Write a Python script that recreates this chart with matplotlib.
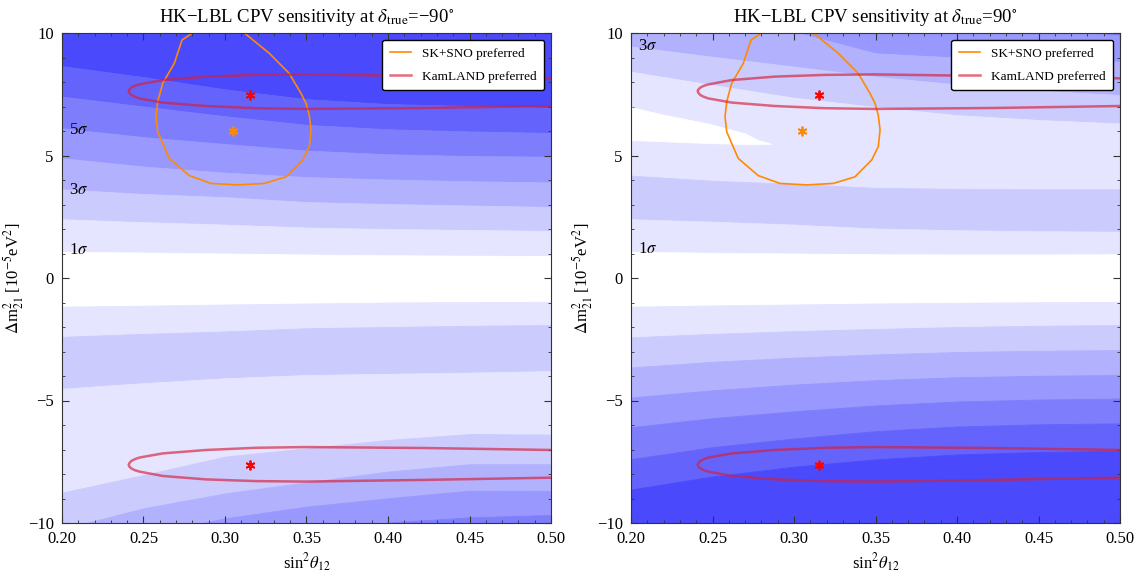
import numpy as np
import matplotlib.pyplot as plt
from matplotlib.ticker import MultipleLocator

plt.rcParams['font.family'] = ['Liberation Serif', 'DejaVu Serif']
plt.rcParams['mathtext.fontset'] = 'stix'

# x nodes (sin^2 theta12) where the contour edges were read
s12 = np.array([0.20, 0.25, 0.30, 0.35, 0.40, 0.45, 0.50])

# delta_true = -90 : contour edges from top to bottom (dm21 in 1e-5 eV^2)
m90_edges = [
    [8.65, 8.20, 7.70, 7.30, 7.10, 7.02, 6.95],
    [7.40, 7.00, 6.60, 6.25, 6.07, 5.98, 5.92],
    [6.11, 5.75, 5.47, 5.20, 5.05, 4.98, 4.95],
    [4.89, 4.55, 4.30, 4.12, 4.02, 3.95, 3.90],
    [3.62, 3.43, 3.30, 3.10, 3.02, 2.96, 2.90],
    [2.40, 2.28, 2.18, 2.06, 2.00, 1.96, 1.92],
    [1.07, 1.04, 1.00, 0.96, 0.93, 0.91, 0.90],
    [-1.17, -1.13, -1.08, -1.04, -1.00, -0.98, -0.97],
    [-2.40, -2.28, -2.18, -2.05, -2.00, -1.95, -1.92],
    [-4.52, -4.29, -4.09, -3.96, -3.91, -3.86, -3.80],
    [-8.76, -8.04, -7.29, -6.95, -6.61, -6.37, -6.39],
    [-10.25, -9.40, -8.79, -8.34, -7.90, -7.60, -7.60],
    [-11.0, -10.5, -9.81, -9.33, -8.99, -8.68, -8.69],
    [-12.0, -11.5, -11.0, -10.4, -9.98, -9.77, -9.67],
]
m90_levels = [7, 6, 5, 4, 3, 2, 1, 0, 1, 2, 1, 2, 3, 4, 5]

# delta_true = +90
p90_edges = [
    [11.0, 11.0, 11.0, 10.6, 10.3, 10.1, 9.90],
    [10.6, 10.3, 10.05, 9.17, 9.00, 8.90, 8.83],
    [9.45, 9.03, 8.63, 8.22, 7.90, 7.65, 7.47],
    [8.42, 7.88, 7.36, 6.98, 6.65, 6.45, 6.31],
    [4.18, 3.97, 3.84, 3.68, 3.64, 3.62, 3.62],
    [2.40, 2.30, 2.18, 2.02, 1.95, 1.91, 1.89],
    [1.07, 1.03, 1.00, 0.97, 0.96, 0.96, 0.97],
    [-1.17, -1.12, -1.08, -1.04, -1.01, -0.99, -0.97],
    [-2.42, -2.28, -2.17, -2.08, -2.00, -1.95, -1.92],
    [-3.65, -3.42, -3.25, -3.12, -3.02, -2.97, -2.94],
    [-4.88, -4.58, -4.35, -4.17, -4.05, -3.99, -3.96],
    [-6.09, -5.72, -5.44, -5.20, -5.04, -4.96, -4.92],
    [-7.39, -6.90, -6.55, -6.25, -6.06, -5.97, -5.93],
    [-8.63, -8.10, -7.70, -7.40, -7.20, -7.10, -7.05],
]
p90_levels = [5, 4, 3, 2, 1, 2, 1, 0, 1, 2, 3, 4, 5, 6, 7]

# white pocket in the +90 panel
notch_x = [0.200, 0.221, 0.247, 0.270, 0.278, 0.286]
notch_lo = [5.63, 5.58, 5.51, 5.47, 5.47, 5.48]
notch_hi = [6.97, 6.65, 6.31, 5.90, 5.63, 5.48]

# SK+SNO preferred region (leaves the frame at the top)
sk_x = [0.2800, 0.2736, 0.2689, 0.2618, 0.2587, 0.2577, 0.2587, 0.2658, 0.2781,
        0.2914, 0.3078, 0.3241, 0.3374, 0.3477, 0.3517, 0.3528, 0.3517, 0.3497,
        0.3466, 0.3394, 0.3272, 0.3119]
sk_y = [10.0, 9.71, 8.76, 7.95, 7.20, 6.58, 5.97, 4.88, 4.18,
        3.86, 3.80, 3.86, 4.13, 4.82, 5.36, 6.04, 6.65, 7.13,
        7.54, 8.35, 9.17, 10.0]

# KamLAND preferred region (upper copy, lower one is mirrored)
kam_x = [0.52, 0.50, 0.4233, 0.3497, 0.319, 0.2883, 0.2618, 0.2474, 0.2445,
         0.2425, 0.2413, 0.2409, 0.2413, 0.2425, 0.2445, 0.2474, 0.2618,
         0.2883, 0.319, 0.3497, 0.4233, 0.50, 0.52]
kam_y = [8.13, 8.15, 8.24, 8.31, 8.29, 8.22, 8.08, 7.90, 7.84,
         7.77, 7.69, 7.63, 7.56, 7.47, 7.40, 7.33, 7.16,
         7.02, 6.93, 6.90, 6.94, 7.02, 7.04]

sk_best = (0.305, 6.02)
kam_best = [(0.3155, 7.46), (0.3155, -7.63)]

sigma_m90 = [('5$\\sigma$', 6.04), ('3$\\sigma$', 3.60), ('1$\\sigma$', 1.14)]
sigma_p90 = [('3$\\sigma$', 9.45), ('1$\\sigma$', 1.20)]


def shade(k):
    f = k / 7.0
    return (1 - 0.71 * f, 1 - 0.71 * f, 1 - 0.01 * f)


def panel(ax, edges, levels, title, labels):
    top = np.full(len(s12), 12.0)
    bot = np.full(len(s12), -12.0)
    bounds = [top] + [np.array(e) for e in edges] + [bot]
    for i, lev in enumerate(levels):
        ax.fill_between(s12, bounds[i + 1], bounds[i], color=shade(lev), lw=0.6, zorder=1)

    ax.plot(sk_x, sk_y, color='#ff8a00', lw=1.2, zorder=3, label='SK+SNO preferred')
    ax.plot(kam_x, kam_y, color='#d71e37', alpha=0.65, lw=1.8, zorder=3,
            solid_joinstyle='round', label='KamLAND preferred')
    ax.plot(kam_x, -np.array(kam_y), color='#d71e37', alpha=0.65, lw=1.8, zorder=3,
            solid_joinstyle='round')
    ax.plot(*sk_best, marker=(6, 2, 0), ms=7, mew=1.3, color='#ff8a00', zorder=4)
    for b in kam_best:
        ax.plot(*b, marker=(6, 2, 0), ms=7, mew=1.3, color='#ff0000', zorder=4)

    for txt, yv in labels:
        ax.text(0.2045, yv, txt, fontsize=12, ha='left', va='center', zorder=5)

    ax.set_xlim(0.2, 0.5)
    ax.set_ylim(-10, 10)
    ax.xaxis.set_major_locator(MultipleLocator(0.05))
    ax.xaxis.set_minor_locator(MultipleLocator(0.01))
    ax.yaxis.set_major_locator(MultipleLocator(5))
    ax.yaxis.set_minor_locator(MultipleLocator(1))
    ax.xaxis.set_major_formatter(plt.FormatStrFormatter('%.2f'))
    ax.tick_params(which='both', direction='in', top=True, right=True,
                   labelsize=12, color='#333333')
    ax.tick_params(which='major', length=5)
    ax.tick_params(which='minor', length=2.5)
    ax.tick_params(axis='x', which='major', pad=6)
    ax.tick_params(axis='y', which='major', pad=6)
    for sp in ax.spines.values():
        sp.set_color('#333333')
        sp.set_zorder(6)
    ax.set_title(title, fontsize=13.5, pad=8)
    ax.set_xlabel('sin$^2\\theta_{12}$', fontsize=12, labelpad=3)
    ax.set_ylabel('$\\Delta$m$^2_{21}$ [10$^{-5}$eV$^2$]', fontsize=12, labelpad=1)
    leg = ax.legend(loc='upper right', fontsize=9.5, fancybox=True, framealpha=1,
                    edgecolor='black', handlelength=1.6, borderpad=0.6,
                    labelspacing=0.8)
    leg.get_frame().set_linewidth(1.0)
    leg.set_zorder(7)


fig = plt.figure(figsize=(11.42, 5.72), dpi=100)
ax1 = fig.add_axes([62 / 1142, 49 / 572, 489 / 1142, 490 / 572])
ax2 = fig.add_axes([631 / 1142, 49 / 572, 489 / 1142, 490 / 572])

panel(ax1, m90_edges, m90_levels,
      'HK\u2212LBL CPV sensitivity at $\\delta_{\\rm true}$=\u221290$^{\\circ}$', sigma_m90)
panel(ax2, p90_edges, p90_levels,
      'HK\u2212LBL CPV sensitivity at $\\delta_{\\rm true}$=90$^{\\circ}$', sigma_p90)
ax2.fill_between(notch_x, notch_lo, notch_hi, color='white', lw=0.6, zorder=2)

fig.savefig('out.png', dpi=100)
